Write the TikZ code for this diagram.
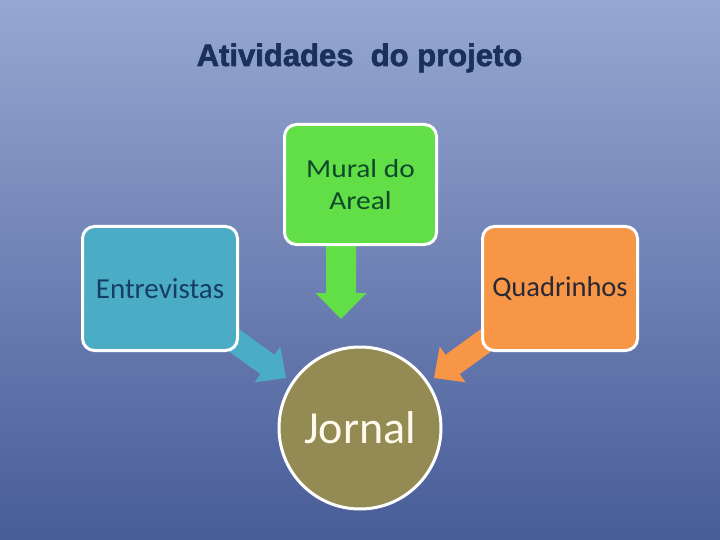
\documentclass[tikz,border=0pt]{standalone}
\usepackage{fontspec}
\setmainfont{Carlito}
\newfontfamily\titlefont[BoldFeatures={FakeBold=2}]{Liberation Sans}
\definecolor{bgtop}{RGB}{150,167,209}
\definecolor{bgbot}{RGB}{72,92,152}
\definecolor{titlecol}{RGB}{26,50,90}
\definecolor{greenfill}{RGB}{98,222,71}
\definecolor{bluefill}{RGB}{75,172,198}
\definecolor{orangefill}{RGB}{247,150,70}
\definecolor{olivefill}{RGB}{148,138,84}
\definecolor{greentext}{RGB}{14,74,42}
\definecolor{bluetext}{RGB}{22,62,98}
\definecolor{orangetext}{RGB}{42,40,52}
\definecolor{jornaltext}{RGB}{255,250,236}
\tikzset{
  boxstyle/.style={draw=white, line width=3pt, rounded corners=12pt, align=center, inner sep=0pt},
  circstyle/.style={draw=white, line width=3pt, circle, inner sep=0pt, minimum size=162pt},
  titlestyle/.style={font=\titlefont\bfseries\fontsize{31}{36}\selectfont, text=titlecol, inner sep=0pt, anchor=base}
}
\begin{document}
\begin{tikzpicture}[x=1pt,y=-1pt]
\useasboundingbox (0,0) rectangle (720,540);
\shade[top color=bgtop, bottom color=bgbot] (0,0) rectangle (720,540);

\node[titlestyle] (title) at (359.5,66) {\scalebox{1.0}[1]{Atividades\ \ do projeto}};

% block arrows (drawn first, shafts hidden under boxes)
\coordinate (gtip) at (341,319);
\coordinate (btip) at (286,378);
\coordinate (otip) at (434,378);
\begin{scope}[shift={(gtip)}, rotate=-90]
  \fill[greenfill] (0,0) -- (-26,25.5) -- (-26,15) -- (-90,15) -- (-90,-15) -- (-26,-15) -- (-26,-25.5) -- cycle;
\end{scope}
\begin{scope}[shift={(btip)}, rotate=-36]
  \fill[bluefill] (0,0) -- (-23,22) -- (-23,12) -- (-90,12) -- (-90,-12) -- (-23,-12) -- (-23,-22) -- cycle;
\end{scope}
\begin{scope}[shift={(otip)}, rotate=-144]
  \fill[orangefill] (0,0) -- (-23,22) -- (-23,12) -- (-90,12) -- (-90,-12) -- (-23,-12) -- (-23,-22) -- cycle;
\end{scope}

\node[boxstyle, fill=greenfill, minimum width=152pt, minimum height=120pt,
      text=greentext, font=\fontsize{26}{32}\selectfont] (mural) at (360.5,184.5)
      {\scalebox{1.13}[1]{Mural do}\\\scalebox{1.13}[1]{Areal}};
\node[boxstyle, fill=bluefill, minimum width=155pt, minimum height=124pt,
      text=bluetext, font=\fontsize{29}{34}\selectfont] (entre) at (160,288.5) {Entrevistas};
\node[boxstyle, fill=orangefill, minimum width=155pt, minimum height=124pt,
      text=orangetext, font=\fontsize{28.5}{34}\selectfont] (quad) at (560,288.5) {Quadrinhos};
\node[circstyle, fill=olivefill, text=jornaltext, font=\fontsize{46}{52}\selectfont] (jornal) at (360,428) {Jornal};
\end{tikzpicture}
\end{document}
